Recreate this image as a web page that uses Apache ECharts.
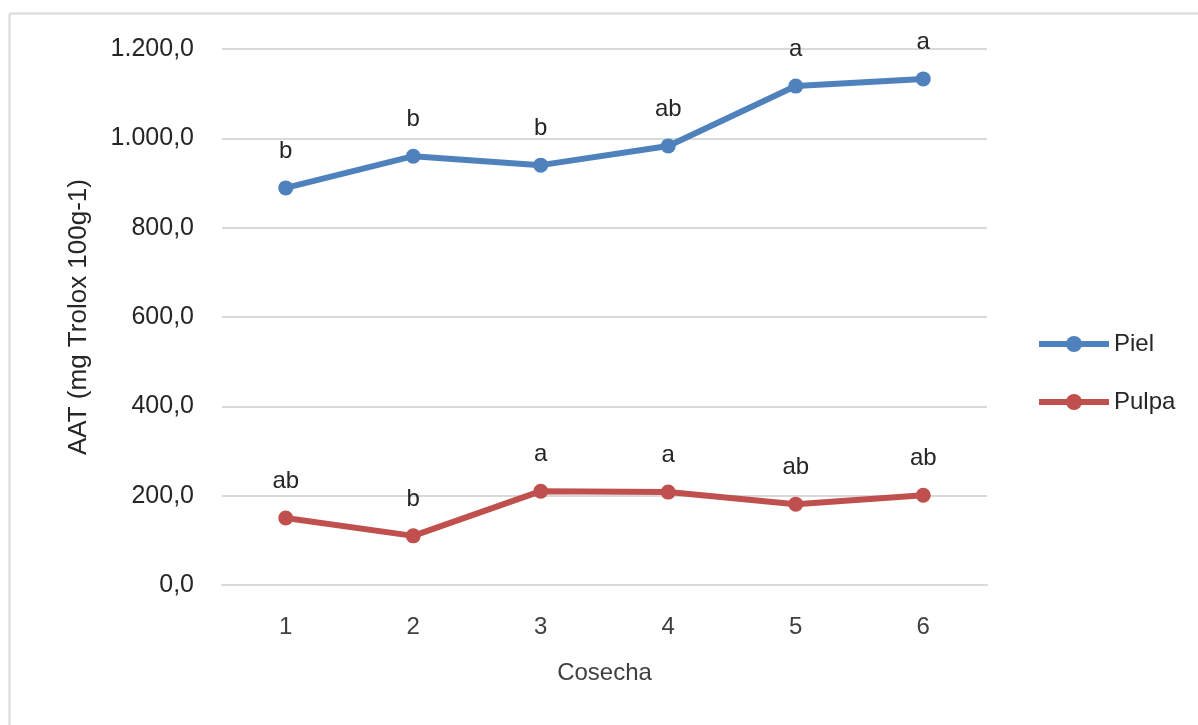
<!DOCTYPE html>
<html>
<head>
<meta charset="utf-8">
<script src="https://cdn.jsdelivr.net/npm/echarts@6/dist/echarts.min.js"></script>
<style>html,body{margin:0;padding:0;background:#fff;}#c{width:1198px;height:725px;}</style>
</head>
<body>
<div id="c"></div>
<script>
const categories = ['1', '2', '3', '4', '5', '6'];
const pielValues = [889, 960, 940, 983, 1117, 1133];
const pulpaValues = [150, 110, 210, 208, 181, 201];
const pielLetters = ['b', 'b', 'b', 'ab', 'a', 'a'];
const pulpaLetters = ['ab', 'b', 'a', 'a', 'ab', 'ab'];
const yTicks = [0, 200, 400, 600, 800, 1000, 1200];
const yTickLabels = ['0,0', '200,0', '400,0', '600,0', '800,0', '1.000,0', '1.200,0'];

const chart = echarts.init(document.getElementById('c'));
const font = 'Liberation Sans';
chart.setOption({
  backgroundColor: '#fff',
  animation: false,
  graphic: [
    { type: 'line', shape: { x1: 9.5, y1: 13.5, x2: 1198, y2: 13.5 }, style: { stroke: '#d9d9d9', lineWidth: 2 } },
    { type: 'line', shape: { x1: 9.5, y1: 13.5, x2: 9.5, y2: 725 }, style: { stroke: '#d9d9d9', lineWidth: 2 } }
  ],
  grid: { left: 222, right: 211, top: 49, bottom: 140, containLabel: false },
  legend: {
    orient: 'vertical',
    left: 1031,
    top: 327,
    itemWidth: 70,
    itemHeight: 20,
    itemGap: 34,
    lineStyle: { width: 6 },
    textStyle: { fontFamily: font, fontSize: 24, color: '#262626' },
    data: ['Piel', 'Pulpa']
  },
  xAxis: {
    type: 'category',
    data: categories,
    boundaryGap: true,
    name: 'Cosecha',
    nameLocation: 'middle',
    nameGap: 76,
    nameTextStyle: { fontFamily: font, fontSize: 24, color: '#404040' },
    axisLine: { lineStyle: { color: '#d9d9d9', width: 2 } },
    axisTick: { show: false },
    axisLabel: { fontFamily: font, fontSize: 24, color: '#404040', margin: 30 }
  },
  yAxis: {
    type: 'value',
    min: 0,
    max: 1200,
    interval: 200,
    name: 'AAT (mg Trolox 100g-1)',
    nameLocation: 'middle',
    nameGap: 130,
    nameTextStyle: { fontFamily: font, fontSize: 26, color: '#262626' },
    axisLine: { show: false },
    axisTick: { show: false },
    splitLine: { lineStyle: { color: '#d9d9d9', width: 2 } },
    axisLabel: {
      fontFamily: font, fontSize: 25, color: '#262626', margin: 28,
      formatter: function (v) { const i = yTicks.indexOf(v); return i >= 0 ? yTickLabels[i] : ''; }
    }
  },
  series: [
    {
      name: 'Piel', type: 'line', data: pielValues,
      color: '#4f81bd',
      lineStyle: { width: 6, color: '#4f81bd' },
      symbol: 'circle', symbolSize: 15,
      itemStyle: { color: '#4f81bd' },
      label: {
        show: true, position: 'top', distance: 17,
        fontFamily: font, fontSize: 24, color: '#262626',
        formatter: function (p) { return pielLetters[p.dataIndex]; }
      }
    },
    {
      name: 'Pulpa', type: 'line', data: pulpaValues,
      color: '#c0504d',
      lineStyle: { width: 6, color: '#c0504d' },
      symbol: 'circle', symbolSize: 15,
      itemStyle: { color: '#c0504d' },
      label: {
        show: true, position: 'top', distance: 17,
        fontFamily: font, fontSize: 24, color: '#262626',
        formatter: function (p) { return pulpaLetters[p.dataIndex]; }
      }
    }
  ]
});
</script>
</body>
</html>
